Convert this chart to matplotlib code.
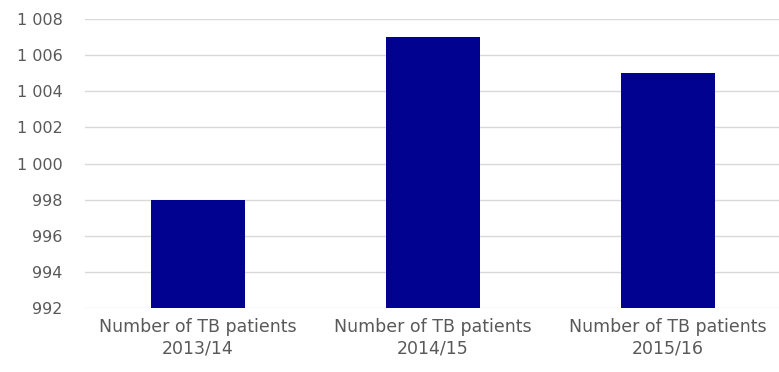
import matplotlib
matplotlib.use("Agg")
import matplotlib.pyplot as plt
from matplotlib.ticker import FuncFormatter

categories = ["Number of TB patients\n2013/14",
              "Number of TB patients\n2014/15",
              "Number of TB patients\n2015/16"]
patients = [998, 1007, 1005]
y_ticks = [992, 994, 996, 998, 1000, 1002, 1004, 1006, 1008]

plt.rcParams['font.family'] = ['DejaVu Sans']

fig = plt.figure(figsize=(7.79, 3.72), dpi=100)
ax = fig.add_axes([85 / 779, 1 - 308 / 372, 1 - 85 / 779, (308 - 19) / 372])

x = list(range(len(categories)))
ax.bar(x, patients, width=0.4, color="#020290", zorder=3)

ax.set_ylim(992, 1008)
ax.set_xlim(-0.481, 2.472)
ax.set_yticks(y_ticks)
ax.yaxis.set_major_formatter(
    FuncFormatter(lambda v, p: f"{int(v):,}".replace(",", " ")))
ax.set_xticks(x)
ax.set_xticklabels(categories)

ax.grid(axis="y", color="#d9d9d9", linewidth=1, zorder=0)
for s in ax.spines.values():
    s.set_visible(False)
ax.tick_params(axis="y", length=0, labelsize=11.5, labelcolor="#595959", pad=16)
ax.tick_params(axis="x", length=0, labelsize=12.5, labelcolor="#595959", pad=7)
for lbl in ax.get_xticklabels():
    lbl.set_linespacing(1.3)

fig.savefig("out.png", dpi=100)
